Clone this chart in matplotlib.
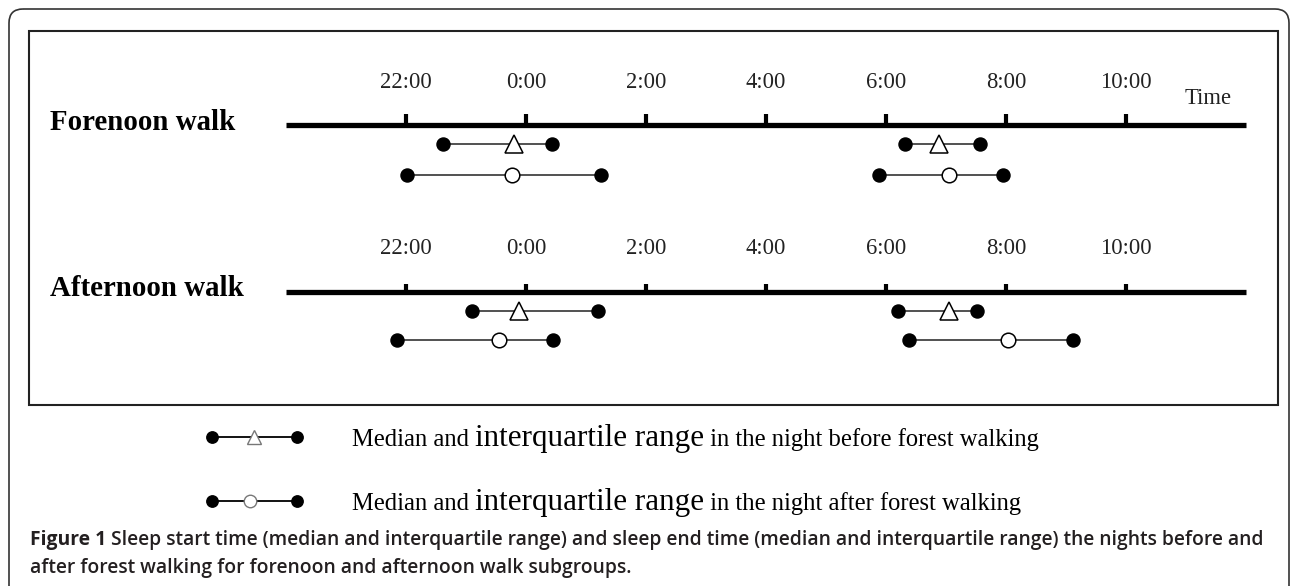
import matplotlib
matplotlib.use("Agg")
import matplotlib.pyplot as plt
from matplotlib.patches import FancyBboxPatch, Rectangle

# ── data: hours relative to midnight (negative = evening before) ─────────────
tick_hours = [-2, 0, 2, 4, 6, 8, 10]
tick_labels = ["22:00", "0:00", "2:00", "4:00", "6:00", "8:00", "10:00"]
axis_span = [-4, 12]

groups = ["Forenoon walk", "Afternoon walk"]

# (q1, median, q3)
fore_before_start = [-1.38, -0.20, 0.43]
fore_before_end = [6.32, 6.88, 7.57]
fore_after_start = [-1.98, -0.23, 1.25]
fore_after_end = [5.88, 7.05, 7.95]

aft_before_start = [-0.90, -0.12, 1.20]
aft_before_end = [6.20, 7.05, 7.52]
aft_after_start = [-2.15, -0.45, 0.45]
aft_after_end = [6.38, 8.03, 9.12]

legend_before = "in the night before forest walking"
legend_after = "in the night after forest walking"
caption_1 = ("Sleep start time (median and interquartile range) and sleep end time "
             "(median and interquartile range) the nights before and")
caption_2 = "after forest walking for forenoon and afternoon walk subgroups."

# ── layout (pixels) ──────────────────────────────────────────────────────────
W, H = 1292, 586
X0, PX_PER_H = 526, 60.0          # 0:00 position and scale
SERIF = ["Liberation Serif", "DejaVu Serif"]
SANS = ["Open Sans", "DejaVu Sans"]

fig = plt.figure(figsize=(W / 100, H / 100), dpi=100)
fig.patch.set_facecolor("white")

# decoration axes in pixel coords
fr = fig.add_axes([0, 0, 1, 1])
fr.set_xlim(0, W)
fr.set_ylim(H, 0)
fr.axis("off")

# data axes: x in hours, y in pixels
ax = fig.add_axes([0, 0, 1, 1])
ax.set_xlim(-X0 / PX_PER_H, (W - X0) / PX_PER_H)
ax.set_ylim(H, 0)
ax.axis("off")
ax.patch.set_alpha(0)

fr.add_patch(FancyBboxPatch((9, 9), 1280, 640, boxstyle="round,pad=0,rounding_size=14",
                            fc="none", ec="#333333", lw=1.2))
fr.add_patch(Rectangle((29, 31), 1249, 374, fc="none", ec="#222222", lw=1.5))


def draw_range(y, vals, marker, msize):
    ax.plot([vals[0], vals[2]], [y, y], color="#222222", lw=1.1, zorder=2)
    ax.plot([vals[0], vals[2]], [y, y], "o", color="black", ms=9.4, zorder=3)
    ax.plot([vals[1]], [y], marker, mfc="white", mec="black", mew=1.1,
            ms=msize, zorder=4)


rows = [
    (125, 11, (fore_before_start, fore_before_end), (fore_after_start, fore_after_end), 175),
    (292, 8, (aft_before_start, aft_before_end), (aft_after_start, aft_after_end), 340),
]

for name, (y_axis, tick_len, before, after, y_after) in zip(groups, rows):
    ax.plot(axis_span, [y_axis, y_axis], color="black", lw=3.8, solid_capstyle="butt", zorder=1)
    for h, lab in zip(tick_hours, tick_labels):
        ax.plot([h, h], [y_axis, y_axis - tick_len], color="black", lw=3.0,
                solid_capstyle="butt", zorder=1)
        ax.text(h, y_axis - 43, lab, ha="center", va="center", fontsize=16.3,
                family=SERIF, color="#222222")
    fr.text(50, y_axis - 3, name, ha="left", va="center", fontsize=20.8,
            family=SERIF, weight="bold", color="black")
    for vals in before:
        draw_range(y_axis + 19, vals, "^", 12.5)
    for vals in after:
        draw_range(y_after, vals, "o", 10.5)

fr.text(1208, 99, "Time", ha="center", va="center", fontsize=16.3,
        family=SERIF, color="#222222")

# legend
for y, marker, ms, label in [(437, "^", 10, legend_before), (501, "o", 9, legend_after)]:
    fr.plot([212, 297], [y, y], color="black", lw=1.3, zorder=2)
    fr.plot([212, 297], [y, y], "o", color="black", ms=8.2, zorder=3)
    fr.plot([254 if marker == "^" else 250], [y], marker, mfc="white", mec="#777777",
            mew=1.0, ms=ms, zorder=4)
    fig.canvas.draw()
    r = fig.canvas.get_renderer()
    base = y + 9
    t1 = fr.text(352, base, "Median and ", fontsize=17.7, family=SERIF, va="baseline")
    x1 = fr.transData.inverted().transform(t1.get_window_extent(r))[1][0]
    t2 = fr.text(x1, base, "interquartile range", fontsize=22.4, family=SERIF, va="baseline")
    x2 = fr.transData.inverted().transform(t2.get_window_extent(r))[1][0]
    fr.text(x2, base, " " + label, fontsize=17.7, family=SERIF, va="baseline")

# caption
fig.canvas.draw()
r = fig.canvas.get_renderer()
c0 = fr.text(30, 545, "Figure 1", fontsize=13.9, family=SANS, weight="bold",
             color="#231f20", va="baseline")
cx = fr.transData.inverted().transform(c0.get_window_extent(r))[1][0]
fr.text(cx, 545, " " + caption_1, fontsize=13.9, family=SANS, weight="semibold",
        color="#231f20", va="baseline")
fr.text(30, 573, caption_2, fontsize=13.9, family=SANS, weight="semibold",
        color="#231f20", va="baseline")

fig.savefig("out.png", dpi=100)
